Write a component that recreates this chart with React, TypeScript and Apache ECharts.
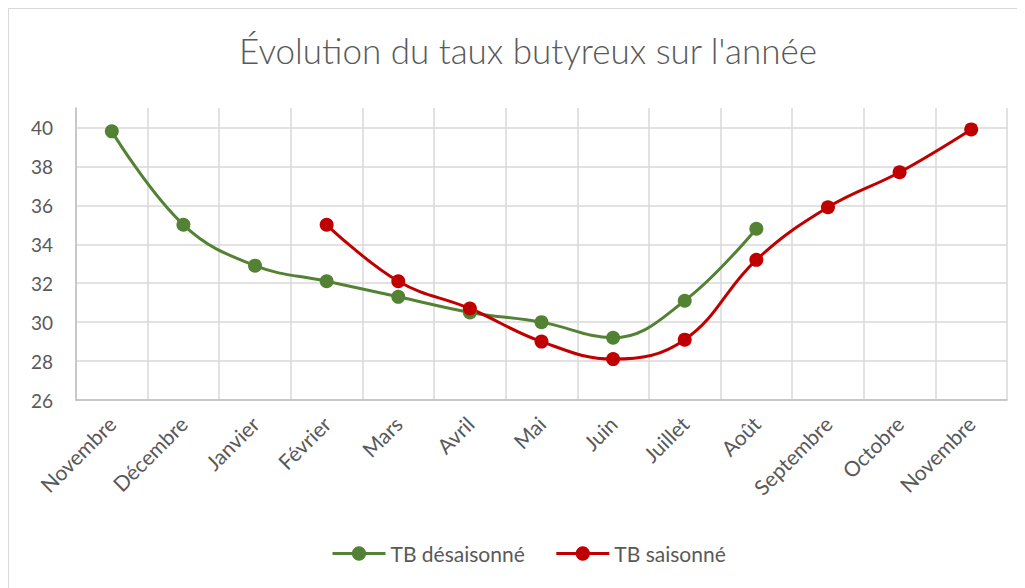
import React, { useEffect, useRef } from "react";
import * as echarts from "echarts";

const categories = [
  "Novembre", "Décembre", "Janvier", "Février", "Mars", "Avril", "Mai",
  "Juin", "Juillet", "Août", "Septembre", "Octobre", "Novembre",
];
const tbDesaisonne = [39.8, 35.0, 32.9, 32.1, 31.3, 30.5, 30.0, 29.2, 31.1, 34.8, null, null, null];
const tbSaisonne = [null, null, null, 35.0, 32.1, 30.7, 29.0, 28.1, 29.1, 33.2, 35.9, 37.7, 39.9];

const FONT = "Lato, 'Open Sans', sans-serif";
const TEXT = "#595959";

export default function App() {
  const ref = useRef<HTMLDivElement>(null);
  useEffect(() => {
    if (!ref.current) return;
    const chart = echarts.init(ref.current, undefined, { renderer: "svg" });
    chart.setOption({
      animation: false,
      backgroundColor: "#ffffff",
      title: {
        text: "Évolution du taux butyreux sur l'année",
        left: 514,
        textAlign: "center",
        top: 18,
        textStyle: { fontFamily: FONT, fontSize: 35, fontWeight: 300, color: TEXT },
      },
      legend: {
        left: 317,
        top: 529,
        itemWidth: 53,
        itemHeight: 18,
        itemGap: 30,
        lineStyle: { width: 3 },
        textStyle: { fontFamily: FONT, fontSize: 21, color: TEXT },
        data: ["TB désaisonné", "TB saisonné"],
      },
      grid: { left: 67, right: 18, top: 99, bottom: 188 },
      xAxis: {
        type: "category",
        data: categories,
        boundaryGap: true,
        axisTick: { show: false },
        axisLine: { lineStyle: { color: "#bfbfbf", width: 1.5 } },
        splitLine: { show: true, interval: 0, lineStyle: { color: "#d9d9d9", width: 1.5 } },
        axisLabel: {
          interval: 0,
          rotate: 45,
          margin: 20,
          fontFamily: FONT,
          fontSize: 21,
          color: TEXT,
        },
      },
      yAxis: {
        type: "value",
        min: 26,
        max: 41,
        interval: 2,
        axisLine: { show: true, lineStyle: { color: "#bfbfbf", width: 1.5 } },
        axisTick: { show: false },
        splitLine: { show: true, showMaxLine: false, lineStyle: { color: "#d9d9d9", width: 1.5 } },
        axisLabel: {
          showMaxLabel: false,
          margin: 23,
          fontFamily: FONT,
          fontSize: 19,
          color: TEXT,
        },
      },
      series: [
        {
          name: "TB désaisonné",
          type: "line",
          data: tbDesaisonne,
          smooth: 0.4,
          connectNulls: false,
          symbol: "circle",
          symbolSize: 14,
          lineStyle: { color: "#548235", width: 3 },
          itemStyle: { color: "#548235" },
        },
        {
          name: "TB saisonné",
          type: "line",
          data: tbSaisonne,
          smooth: 0.4,
          connectNulls: false,
          symbol: "circle",
          symbolSize: 14,
          lineStyle: { color: "#c00000", width: 3 },
          itemStyle: { color: "#c00000" },
        },
      ],
    });
    return () => chart.dispose();
  }, []);
  return (
    <div
      ref={ref}
      style={{
        width: 1017,
        height: 580,
        boxSizing: "border-box",
        borderLeft: "1px solid #d9d9d9",
        borderTop: "1px solid #d9d9d9",
      }}
    />
  );
}
